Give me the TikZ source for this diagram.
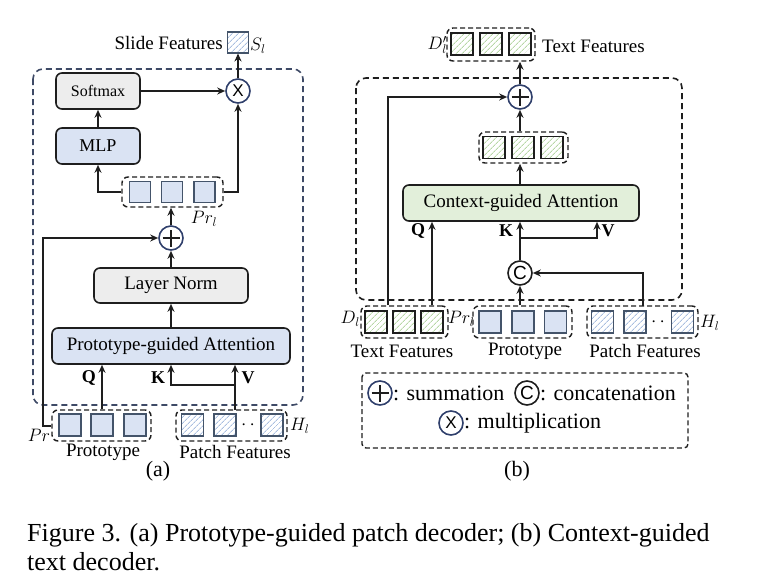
\documentclass[tikz,border=0pt]{standalone}
\usepackage{fix-cm}
\usepackage{fontspec}
\setmainfont{Liberation Serif}
\newfontfamily\arialf{Liberation Sans}
\usetikzlibrary{arrows.meta,patterns.meta,calc}
\definecolor{bluefill}{HTML}{DAE3F3}
\definecolor{grayfill}{HTML}{EDEDED}
\definecolor{greenfill}{HTML}{E2EFDA}
\definecolor{sqborder}{HTML}{44546A}
\definecolor{navy}{HTML}{2F3F6B}
\definecolor{dasha}{HTML}{3E4A66}
\definecolor{hatchblue}{HTML}{A9BFE0}
\definecolor{hatchgreen}{HTML}{B7D7A6}
\definecolor{ink}{HTML}{1E1E1E}
\begin{document}
\begin{tikzpicture}[x=1pt,y=-1pt,font=\fontsize{19}{22}\selectfont,
  box/.style={draw=ink,line width=1.6pt,rounded corners=6pt,inner sep=0pt,align=center},
  arr/.style={-{Stealth[length=8pt,width=7pt]},line width=1.8pt,draw=ink},
  plain/.style={line width=1.8pt,draw=ink},
  sq/.style={draw=sqborder,line width=1.6pt,minimum size=21pt,inner sep=0pt},
  protosq/.style={sq,fill=bluefill},
  patchsq/.style={sq,pattern={Lines[angle=45,distance=4pt,line width=0.9pt]},pattern color=hatchblue},
  textsq/.style={sq,draw=ink,pattern={Lines[angle=45,distance=4pt,line width=0.9pt]},pattern color=hatchgreen},
  grp/.style={draw=ink,dash pattern=on 5pt off 3pt,line width=1.4pt,rounded corners=6pt,inner sep=0pt},
  outer/.style={dash pattern=on 6pt off 4pt,line width=1.6pt,rounded corners=10pt},
  opc/.style={circle,draw=navy,line width=1.6pt,minimum size=24pt,inner sep=0pt},
  plusc/.style={opc,path picture={
     \draw[line width=1.4pt,draw=ink] ([xshift=-8.5pt]path picture bounding box.center) -- ([xshift=8.5pt]path picture bounding box.center);
     \draw[line width=1.4pt,draw=ink] ([yshift=-8.5pt]path picture bounding box.center) -- ([yshift=8.5pt]path picture bounding box.center);}},
  multc/.style={opc,font=\arialf\fontsize{17}{17}\selectfont},
  catc/.style={opc,draw=ink,font=\arialf\fontsize{19}{19}\selectfont},
  lbl/.style={inner sep=0pt},
  mlbl/.style={inner sep=0pt,font=\fontsize{18}{18}\selectfont},
  qkv/.style={inner sep=0pt,font=\bfseries\fontsize{18}{18}\selectfont},
  dots/.style={inner sep=0pt,font=\bfseries\fontsize{19}{19}\selectfont}]
\useasboundingbox (0,0) rectangle (764,584);

% ================= (a) =================
\draw[outer,draw=dasha] (33,69) rectangle (303,405);

\node[box,fill=grayfill,minimum width=84pt,minimum height=36pt,font=\fontsize{16}{16}\selectfont] (softmax) at (98,91) {Softmax};
\node[box,fill=bluefill,minimum width=84pt,minimum height=36pt,font=\fontsize{18}{18}\selectfont] (mlp) at (98,146) {MLP};
\node[multc] (mult) at (238,91) {X};
\node[patchsq] (slide) at (238,42.5) {};
\node[lbl,anchor=east] (slidelbl) at (223,43) {Slide Features};
\node[mlbl,anchor=west] (sl) at (250,46) {$S_l$};

\node[grp,minimum width=101pt,minimum height=30pt] (prlg) at (172.5,192) {};
\node[protosq] (pr1) at (140,192) {};
\node[protosq] (pr2) at (172,192) {};
\node[protosq] (pr3) at (204.5,192) {};
\node[mlbl] (prllbl) at (204,219) {$Pr_l$};

\node[plusc] (plusa) at (171,238) {};
\node[box,fill=grayfill,minimum width=154pt,minimum height=35pt] (lnorm) at (171,285.5) {Layer Norm};
\node[box,fill=bluefill,minimum width=238pt,minimum height=36pt] (pga) at (171,346) {Prototype-guided Attention};

\node[grp,minimum width=99pt,minimum height=31pt] (protoga) at (101.5,425.5) {};
\node[protosq,minimum size=22pt] (pa1) at (70,425) {};
\node[protosq,minimum size=22pt] (pa2) at (102,425) {};
\node[protosq,minimum size=22pt] (pa3) at (135,425) {};

\node[grp,minimum width=111pt,minimum height=31pt] (patchga) at (231.5,425.5) {};
\node[patchsq,minimum size=22pt] (ha1) at (192.5,425) {};
\node[patchsq,minimum size=22pt] (ha2) at (225,425) {};
\node[patchsq,minimum size=22pt] (ha3) at (272,425) {};
\node[dots] (hadots) at (248,425) {$\cdot\,\cdot$};
\node[mlbl,anchor=west] (hal) at (290,426) {$H_l$};

\node[mlbl] (prlbl) at (39,435) {$Pr$};
\node[lbl] (protolbla) at (103,452) {Prototype};
\node[lbl] (patchlbla) at (235,452) {Patch Features};
\node[lbl,font=\fontsize{22}{22}\selectfont] (alabel) at (158,471) {(a)};

\node[qkv] (qa) at (89,378) {Q};
\node[qkv] (ka) at (158,378) {K};
\node[qkv] (va) at (248,378) {V};

\coordinate (vsrc) at (235,410);
\coordinate (kva) at (235,385);
\coordinate (prbend) at (43,426);

\draw[arr] (mlp) -- (softmax);
\draw[arr] (softmax) -- (mult);
\draw[arr] (mult) -- (slide);
\draw[arr] (prlg.west) -| (mlp.south);
\draw[arr] (prlg.east) -| (mult.south);
\draw[arr] (plusa.north) -- (plusa.north |- prlg.south);
\draw[arr] (lnorm) -- (plusa);
\draw[arr] (pga) -- (lnorm);
\draw[arr] (pa2.north |- protoga.north) -- (pa2.north |- pga.south);
\draw[arr] (vsrc) -- (vsrc |- pga.south);
\draw[arr] (kva) -| (pga.south);
\draw[arr] (protoga.west |- prbend) -- (prbend) |- (plusa.west);

% ================= (b) =================
\draw[outer,draw=ink] (356,78) rectangle (682,300);

\node[grp,minimum width=88pt,minimum height=33pt] (topg) at (491,44.5) {};
\node[textsq,minimum size=22pt] (t1) at (462,44) {};
\node[textsq,minimum size=22pt] (t2) at (491,44) {};
\node[textsq,minimum size=22pt] (t3) at (520,44) {};
\node[mlbl,anchor=east] (dpl) at (447,45) {$D_l'$};
\node[lbl,anchor=west] (tftop) at (542,46) {Text Features};

\node[plusc] (plusb) at (520,97) {};

\node[grp,minimum width=89pt,minimum height=31pt] (midg) at (523.5,147.5) {};
\node[textsq,minimum size=22pt] (m1) at (494,147.5) {};
\node[textsq,minimum size=22pt] (m2) at (523,147.5) {};
\node[textsq,minimum size=22pt] (m3) at (552,147.5) {};

\node[box,fill=greenfill,minimum width=236pt,minimum height=36pt] (cga) at (521,203) {Context-guided Attention};
\node[qkv] (qb) at (418,231) {Q};
\node[qkv] (kb) at (506,231) {K};
\node[qkv] (vb) at (608,231) {V};

\node[catc] (cat) at (520,273) {C};

\node[grp,minimum width=87pt,minimum height=32pt] (textg) at (404.5,322) {};
\node[textsq,minimum size=22pt] (b1) at (376,322) {};
\node[textsq,minimum size=22pt] (b2) at (404,322) {};
\node[textsq,minimum size=22pt] (b3) at (432,322) {};
\node[mlbl,anchor=east] (dl) at (360,319) {$D_l$};
\node[mlbl,anchor=west] (prlb) at (448,319) {$Pr_l$};

\node[grp,minimum width=99pt,minimum height=32pt] (protogb) at (522.5,322) {};
\node[protosq,minimum size=22pt] (p1) at (490,322) {};
\node[protosq,minimum size=22pt] (p2) at (523,322) {};
\node[protosq,minimum size=22pt] (p3) at (555.5,322) {};

\node[grp,minimum width=111pt,minimum height=32pt] (patchgb) at (642.5,322) {};
\node[patchsq,minimum size=22pt] (h1) at (602.5,322) {};
\node[patchsq,minimum size=22pt] (h2) at (635,322) {};
\node[patchsq,minimum size=22pt] (h3) at (682.5,322) {};
\node[dots] (hbdots) at (658,322) {$\cdot\,\cdot$};
\node[mlbl,anchor=west] (hbl) at (700,323) {$H_l$};

\node[lbl] (tflbl) at (402,351) {Text Features};
\node[lbl] (protolblb) at (525,351) {Prototype};
\node[lbl] (patchlblb) at (645,351) {Patch Features};

\coordinate (kvb) at (520,238);
\coordinate (vbend) at (597,238);
\coordinate (resb) at (388,305);
\coordinate (patchsrc) at (643,306);

\draw[arr] (plusb.north) -- (plusb.north |- topg.south);
\draw[arr] (plusb.south |- midg.north) -- (plusb.south);
\draw[arr] (plusb.south |- cga.north) -- (plusb.south |- midg.south);
\draw[arr] (b3.north |- textg.north) -- (b3.north |- cga.south);
\draw[arr] (resb) |- (plusb.west);
\draw[plain] (cat.north) -- (kvb);
\draw[arr] (kvb) -- (kvb |- cga.south);
\draw[arr] (kvb) -- (vbend) -- (vbend |- cga.south);
\draw[arr] (cat.south |- protogb.north) -- (cat.south);
\draw[arr] (patchsrc) |- (cat.east);

% legend
\draw[grp,rounded corners=4pt] (362,373) rectangle (688,448);
\node[plusc] (lgplus) at (380,393) {};
\node[lbl,anchor=west,font=\fontsize{22}{22}\selectfont] (lgsum) at (393,393) {: summation};
\node[catc] (lgcat) at (527,393) {C};
\node[lbl,anchor=west,font=\fontsize{22}{22}\selectfont] (lgcon) at (540,393) {: concatenation};
\node[multc] (lgmul) at (451,423) {X};
\node[lbl,anchor=west,font=\fontsize{22}{22}\selectfont] (lgmult) at (464,423) {: multiplication};
\node[lbl,font=\fontsize{22}{22}\selectfont] (blabel) at (517,471) {(b)};

% caption
\node[lbl,anchor=base west,font=\fontsize{26}{29}\selectfont] (cap1) at (27,541) {Figure 3. (a) Prototype-guided patch decoder; (b) Context-guided};
\node[lbl,anchor=base west,font=\fontsize{26}{29}\selectfont] (cap2) at (27,570) {text decoder.};
\end{tikzpicture}
\end{document}
